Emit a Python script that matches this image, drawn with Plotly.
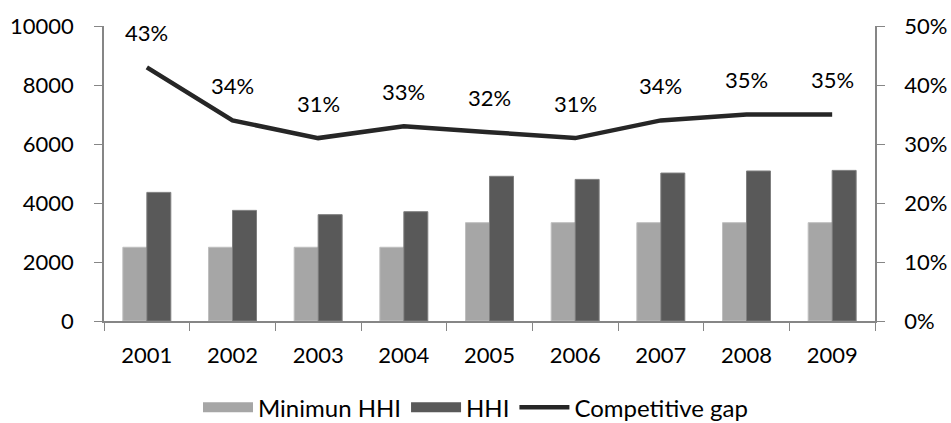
import plotly.graph_objects as go

years = ["2001", "2002", "2003", "2004", "2005", "2006", "2007", "2008", "2009"]
min_hhi = [2500, 2500, 2500, 2500, 3333, 3333, 3333, 3333, 3333]
hhi = [4360, 3750, 3605, 3705, 4905, 4800, 5015, 5085, 5105]
gap = [0.43, 0.34, 0.31, 0.33, 0.32, 0.31, 0.34, 0.35, 0.35]

FONT = "Lato"
C_MIN = "#A6A6A6"
C_HHI = "#595959"
C_GAP = "#262626"

fig = go.Figure()
fig.add_trace(go.Bar(x=years, y=min_hhi, name="Minimun HHI", showlegend=False,
                     marker=dict(color=C_MIN, line=dict(color="#BFBFBF", width=1))))
fig.add_trace(go.Bar(x=years, y=hhi, name="HHI", showlegend=False,
                     marker=dict(color=C_HHI, line=dict(color="#7F7F7F", width=1))))
fig.add_trace(go.Scatter(x=years, y=gap, name="Competitive gap", yaxis="y2",
                         mode="lines", line=dict(color=C_GAP, width=4.5), showlegend=False))

# legend entries (wide swatches like the original)
for name, col, w in [("Minimun HHI", C_MIN, 14), ("HHI", C_HHI, 14), ("Competitive gap", C_GAP, 4.5)]:
    fig.add_trace(go.Scatter(x=[None], y=[None], mode="lines", name=name,
                             line=dict(color=col, width=w), showlegend=True))

for i, g in enumerate(gap):
    fig.add_annotation(x=i, y=g, xref="x", yref="y2", text=f"{round(g*100)}%", showarrow=False,
                       yshift=35, font=dict(size=22, color="#000000", family=FONT))

axis_line = "#868686"
fig.update_layout(
    width=951, height=423,
    margin=dict(l=104, r=76, t=26, b=102, autoexpand=False),
    paper_bgcolor="white", plot_bgcolor="white",
    font=dict(family=FONT, size=22, color="#000000"),
    barmode="group", bargap=0.44, bargroupgap=0,
    showlegend=True,
    legend=dict(orientation="h", xref="container", yref="container", x=0.5, xanchor="center",
                y=0.036, yanchor="middle", font=dict(size=24), itemwidth=50,
                traceorder="normal", bgcolor="rgba(0,0,0,0)"),
    xaxis=dict(type="category", range=[-0.5, 8.5], showline=True, linecolor=axis_line, linewidth=1.5,
               ticks="outside", tickson="boundaries", ticklen=8, tickcolor=axis_line,
               showgrid=False, zeroline=False, tickangle=0, ticklabelstandoff=14),
    yaxis=dict(range=[0, 10000], dtick=2000, tickformat="d", showline=True, linecolor=axis_line,
               linewidth=1.5, ticks="outside", ticklen=8, tickcolor=axis_line, showgrid=False,
               zeroline=False, ticklabelstandoff=16),
    yaxis2=dict(range=[0, 0.5], dtick=0.1, tickformat=".0%", overlaying="y", side="right",
                showline=True, linecolor=axis_line, linewidth=1.5, ticks="outside", ticklen=8,
                tickcolor=axis_line, showgrid=False, zeroline=False, ticklabelstandoff=15),
)
fig.write_html("out.html")
